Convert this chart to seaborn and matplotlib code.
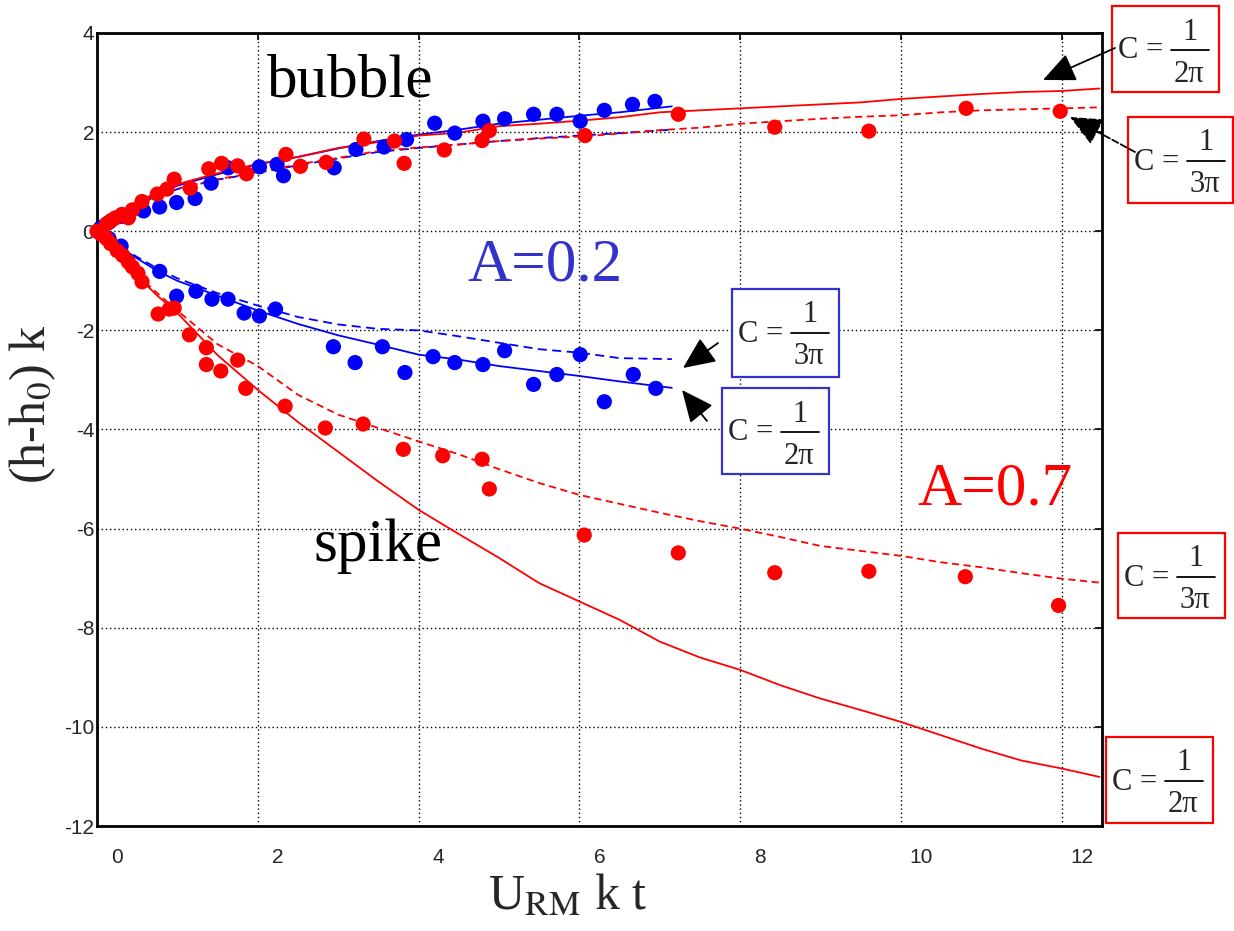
import matplotlib
matplotlib.use("Agg")
import matplotlib.pyplot as plt
import matplotlib.transforms as mtransforms
from matplotlib.patches import Rectangle, FancyArrowPatch
from matplotlib.lines import Line2D
import seaborn as sns
import numpy as np

# ---------------- data ----------------
# A = 0.2 (blue) experimental points
blue_bub_x = [0.05, 0.15, 0.3, 0.58, 0.78, 0.99, 1.22, 1.42, 1.63, 2.02, 2.24, 2.32, 2.95, 3.22, 3.57,
              3.85, 4.2, 4.45, 4.8, 5.07, 5.43, 5.72, 6.01, 6.31, 6.66, 6.94]
blue_bub_y = [0.08, 0.18, 0.3, 0.41, 0.49, 0.58, 0.66, 0.97, 1.28, 1.30, 1.35, 1.12, 1.28, 1.65, 1.70,
              1.85, 2.18, 1.98, 2.22, 2.27, 2.36, 2.36, 2.22, 2.44, 2.56, 2.62]
blue_spk_x = [0.05, 0.15, 0.3, 0.78, 0.99, 1.23, 1.43, 1.63, 1.83, 2.02, 2.22, 2.94, 3.21, 3.55, 3.83,
              4.18, 4.45, 4.80, 5.07, 5.43, 5.72, 6.01, 6.31, 6.67, 6.95]
blue_spk_y = [-0.06, -0.15, -0.3, -0.81, -1.31, -1.21, -1.37, -1.37, -1.65, -1.71, -1.57, -2.33, -2.65,
              -2.33, -2.85, -2.53, -2.65, -2.69, -2.41, -3.09, -2.89, -2.49, -3.44, -2.89, -3.17]

# A = 0.7 (red) experimental points
red_bub_x = [0.0, 0.06, 0.12, 0.18, 0.23, 0.31, 0.39, 0.44, 0.56, 0.75, 0.87, 0.96, 1.16, 1.39, 1.55,
             1.75, 1.86, 2.35, 2.53, 2.85, 3.32, 3.70, 3.82, 4.32, 4.79, 4.88, 6.07, 7.23, 8.43, 9.6,
             10.81, 11.98]
red_bub_y = [0.0, -0.05, 0.15, 0.22, 0.27, 0.34, 0.27, 0.43, 0.60, 0.75, 0.85, 1.05, 0.87, 1.26, 1.37,
             1.32, 1.16, 1.55, 1.31, 1.39, 1.86, 1.82, 1.37, 1.64, 1.83, 2.03, 1.93, 2.36, 2.10, 2.02,
             2.48, 2.42]
red_spk_x = [0.03, 0.07, 0.12, 0.17, 0.25, 0.32, 0.39, 0.44, 0.51, 0.56, 0.76, 0.90, 0.96, 1.15, 1.36,
             1.36, 1.54, 1.75, 1.85, 2.34, 2.84, 3.31, 3.81, 4.30, 4.79, 4.88, 6.06, 7.23, 8.43, 9.60,
             10.80, 11.96]
red_spk_y = [-0.02, -0.08, -0.15, -0.25, -0.39, -0.49, -0.62, -0.72, -0.85, -1.02, -1.67, -1.57, -1.55,
             -2.09, -2.35, -2.69, -2.82, -2.60, -3.17, -3.53, -3.97, -3.89, -4.40, -4.53, -4.60, -5.20,
             -6.13, -6.49, -6.89, -6.86, -6.97, -7.55]

# model curves, A = 0.2
blue_t = [0, 0.1, 0.25, 0.5, 0.75, 1.0, 1.5, 2.0, 2.5, 3.0, 3.5, 4.0, 4.5, 5.0, 5.5, 6.0, 6.5, 7.15]
blue_bub_c2 = [0, 0.18, 0.33, 0.57, 0.75, 0.92, 1.15, 1.35, 1.5, 1.67, 1.82, 1.95, 2.05, 2.17, 2.25,
               2.33, 2.4, 2.52]
blue_bub_c3 = [0, 0.17, 0.32, 0.54, 0.71, 0.85, 1.04, 1.18, 1.33, 1.47, 1.6, 1.68, 1.75, 1.82, 1.88,
               1.93, 1.98, 2.05]
blue_spk_c2 = [0, -0.12, -0.28, -0.55, -0.8, -1.0, -1.3, -1.6, -1.87, -2.1, -2.29, -2.49, -2.59, -2.72,
               -2.82, -2.92, -3.03, -3.16]
blue_spk_c3 = [0, -0.11, -0.27, -0.52, -0.75, -0.95, -1.25, -1.5, -1.73, -1.88, -1.97, -2.0, -2.12,
               -2.25, -2.38, -2.45, -2.56, -2.58]

# model curves, A = 0.7
red_t = [0, 0.1, 0.25, 0.5, 0.75, 1.0, 1.5, 2.0, 2.5, 3.0, 3.5, 4.0, 4.5, 5.0, 5.5, 6.0, 6.5, 7.0, 7.5,
         8.0, 8.5, 9.0, 9.5, 10.0, 10.5, 11.0, 11.5, 12.0, 12.47]
red_bub_c2 = [0, 0.2, 0.35, 0.6, 0.78, 0.95, 1.17, 1.36, 1.5, 1.68, 1.8, 1.93, 1.99, 2.12, 2.17, 2.23,
              2.3, 2.4, 2.44, 2.48, 2.52, 2.56, 2.6, 2.67, 2.72, 2.77, 2.81, 2.83, 2.88]
red_bub_c3 = [0, 0.18, 0.33, 0.55, 0.72, 0.86, 1.05, 1.19, 1.35, 1.48, 1.62, 1.69, 1.75, 1.82, 1.87,
              1.91, 1.97, 2.04, 2.09, 2.17, 2.22, 2.27, 2.31, 2.34, 2.40, 2.44, 2.46, 2.48, 2.5]
red_spk_c2 = [0, -0.17, -0.42, -0.9, -1.3, -1.65, -2.5, -3.2, -3.85, -4.45, -5.05, -5.62, -6.11, -6.59,
              -7.1, -7.47, -7.84, -8.28, -8.6, -8.85, -9.16, -9.43, -9.66, -9.9, -10.17, -10.44, -10.68,
              -10.84, -11.01]
red_spk_c3 = [0, -0.17, -0.42, -0.88, -1.25, -1.6, -2.28, -2.72, -3.3, -3.7, -3.97, -4.24, -4.5, -4.8,
              -5.08, -5.32, -5.5, -5.68, -5.85, -6.0, -6.17, -6.35, -6.45, -6.55, -6.68, -6.78, -6.9,
              -7.01, -7.09]

x_ticks = [0, 2, 4, 6, 8, 10, 12]
y_ticks = [-12, -10, -8, -6, -4, -2, 0, 2, 4]

# ---------------- style ----------------
sns.set_style("white")
plt.rcParams["font.family"] = ["Liberation Serif", "DejaVu Serif"]
plt.rcParams["mathtext.fontset"] = "stix"

RED = "#ff0000"
BLUE = "#0000ff"
TBLUE = "#3333cc"

W, H = 1234, 931
fig = plt.figure(figsize=(W / 100, H / 100), dpi=100)
ax = fig.add_axes([97 / W, 1 - 826 / H, 1005 / W, 793 / H])


def fp(px, py):
    """pixel (from top-left) -> figure fraction"""
    return px / W, 1 - py / H


lw = 1.3
dash_b = (5, 3)
dash_r = (4, 2.5)


def curve(xs, ys, color, dashes=None):
    sns.lineplot(x=xs, y=ys, color=color, lw=lw, sort=False, estimator=None, ax=ax)
    if dashes is not None:
        ax.lines[-1].set_dashes(dashes)


curve(blue_t, blue_bub_c2, BLUE)
curve(blue_t, blue_bub_c3, BLUE, dash_b)
curve(blue_t, blue_spk_c2, BLUE)
curve(blue_t, blue_spk_c3, BLUE, dash_b)
curve(red_t, red_bub_c2, RED)
curve(red_t, red_bub_c3, RED, dash_r)
curve(red_t, red_spk_c2, RED)
curve(red_t, red_spk_c3, RED, dash_r)

# points
ms = 120
for xs, ys, c in [(blue_bub_x, blue_bub_y, BLUE), (blue_spk_x, blue_spk_y, BLUE),
                  (red_bub_x, red_bub_y, RED), (red_spk_x, red_spk_y, RED)]:
    sns.scatterplot(x=xs, y=ys, color=c, s=ms, edgecolor="none", ax=ax, clip_on=False, zorder=3)

# axes
ax.set_xlim(0, 12.5)
ax.set_ylim(-12, 4)
ax.set_xticks(x_ticks)
ax.set_yticks(y_ticks)
ax.set_xticklabels([str(t) for t in x_ticks], fontfamily="Liberation Sans", fontsize=15)
ax.set_yticklabels([str(t) for t in y_ticks], fontfamily="Liberation Sans", fontsize=15)
ax.grid(True, linestyle=(0, (1, 2)), color="black", linewidth=1.0)
ax.tick_params(direction="in", top=True, right=True, length=5, width=1.2, color="black")
ax.tick_params(axis="x", pad=16)
ax.tick_params(axis="y", pad=2)
for s in ax.spines.values():
    s.set_color("black")
    s.set_linewidth(2)
    s.set_visible(True)

offset = mtransforms.ScaledTranslation(20 / 100, 0, fig.dpi_scale_trans)
for tick in ax.xaxis.get_major_ticks():
    tick.label1.set_transform(tick.label1.get_transform() + offset)

ax.set_xlabel(r"U$_{\mathrm{RM}}$ k t", fontsize=36)
ax.xaxis.set_label_coords((568 - 97) / 1005, -(874 - 826) / 793)
ax.set_ylabel(r"(h-h$_0$) k", fontsize=36)
ax.yaxis.set_label_coords((58 - 97) / 1005, (826 - 404) / 793)

# big annotations
fig.text(*fp(350, 82), "bubble", fontsize=44, ha="center", va="center", color="black")
fig.text(*fp(378, 546), "spike", fontsize=44, ha="center", va="center", color="black")
fig.text(*fp(545, 266), "A=0.2", fontsize=44, ha="center", va="center", color=TBLUE)
fig.text(*fp(995, 490), "A=0.7", fontsize=44, ha="center", va="center", color=RED)

# C boxes: (left, top, right, bottom) in pixels, denominator, colour
boxes = [
    ((1112, 6, 1219, 92), "2π", RED),
    ((1128, 117, 1233, 203), "3π", RED),
    ((732, 289, 839, 377), "3π", TBLUE),
    ((722, 388, 829, 474), "2π", TBLUE),
    ((1118, 533, 1225, 618), "3π", RED),
    ((1106, 737, 1213, 823), "2π", RED),
]
fs_box = 22
for (l, t, r, b), den, c in boxes:
    x0, y0 = fp(l, b)
    fig.patches.append(Rectangle((x0, y0), (r - l) / W, (b - t) / H, transform=fig.transFigure,
                                 fill=True, facecolor="white", edgecolor=c, linewidth=1.6))
    fig.text(*fp(l + 29, t + 45), "C =", fontsize=fs_box, ha="center", va="center")
    fig.text(*fp(l + 78, t + 26), "1", fontsize=fs_box, ha="center", va="center")
    fig.text(*fp(l + 77, t + 68), den, fontsize=fs_box, ha="center", va="center")
    xa, ya = fp(l + 59, t + 44)
    xb, _ = fp(l + 97, t + 44)
    fig.lines.append(Line2D([xa, xb], [ya, ya], transform=fig.transFigure, color="black", lw=1.3))

# arrows: (tail px, head px, linestyle)
arrows = [
    ((1115, 48), (1043, 80), "-"),
    ((1135, 152), (1070, 117), "--"),
    ((718, 343), (683, 368), "-"),
    ((707, 421), (682, 390), "-"),
]
for (tx, ty), (hx, hy), ls in arrows:
    fig.patches.append(FancyArrowPatch(
        fp(tx, ty), fp(hx, hy), transform=fig.transFigure,
        arrowstyle="-|>,head_length=1.0,head_width=0.45", mutation_scale=20,
        color="black", linewidth=1.3, linestyle=ls, shrinkA=0, shrinkB=0))

fig.savefig("out.png", dpi=100)
